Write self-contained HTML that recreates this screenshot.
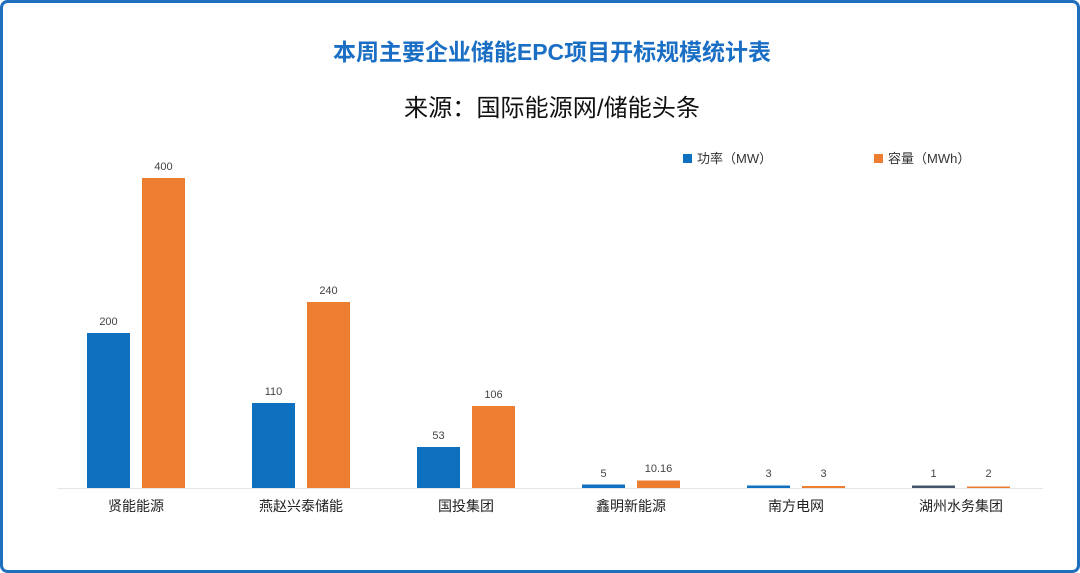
<!DOCTYPE html>
<html><head><meta charset="utf-8"><style>
html,body{margin:0;padding:0;background:#fff}
svg{display:block}
text{font-family:"Liberation Sans","Noto Sans CJK SC",sans-serif}
</style></head><body>
<svg width="1080" height="573" viewBox="0 0 1080 573" xmlns="http://www.w3.org/2000/svg">
<rect x="1.5" y="1.5" width="1077" height="570" rx="6" fill="#fff" stroke="#1f6fbf" stroke-width="3"/>
<text x="552" y="60" text-anchor="middle" font-size="23" font-weight="bold" fill="#1a6fc4" textLength="438" lengthAdjust="spacingAndGlyphs">本周主要企业储能EPC项目开标规模统计表</text>
<text x="552" y="116" text-anchor="middle" font-size="24" fill="#111" textLength="296" lengthAdjust="spacingAndGlyphs">来源：国际能源网/储能头条</text>
<rect x="683" y="154" width="9" height="9" fill="#0f70c0"/>
<text x="697" y="163" font-size="13" fill="#333">功率（MW）</text>
<rect x="874" y="154" width="9" height="9" fill="#ed7d31"/>
<text x="888" y="163" font-size="13" fill="#333">容量（MWh）</text>
<line x1="57" y1="488.5" x2="1043" y2="488.5" stroke="#e6e6e6" stroke-width="1"/>
<g font-size="11" fill="#444" text-anchor="middle">
<rect x="87" y="333" width="43" height="155" fill="#0f70c0"/><text x="108.5" y="325">200</text>
<rect x="142" y="178" width="43" height="310" fill="#ed7d31"/><text x="163.5" y="170">400</text>
<rect x="252" y="403" width="43" height="85" fill="#0f70c0"/><text x="273.5" y="395">110</text>
<rect x="307" y="302" width="43" height="186" fill="#ed7d31"/><text x="328.5" y="294">240</text>
<rect x="417" y="447" width="43" height="41" fill="#0f70c0"/><text x="438.5" y="439">53</text>
<rect x="472" y="406" width="43" height="82" fill="#ed7d31"/><text x="493.5" y="398">106</text>
<rect x="582" y="484.5" width="43" height="3.5" fill="#0f70c0"/><text x="603.5" y="477">5</text>
<rect x="637" y="480.5" width="43" height="7.5" fill="#ed7d31"/><text x="658.5" y="472">10.16</text>
<rect x="747" y="485.5" width="43" height="2.5" fill="#0f70c0"/><text x="768.5" y="477">3</text>
<rect x="802" y="486" width="43" height="2" fill="#ed7d31"/><text x="823.5" y="477">3</text>
<rect x="912" y="485.5" width="43" height="2.5" fill="#44546a"/><text x="933.5" y="477">1</text>
<rect x="967" y="486.5" width="43" height="1.5" fill="#ed7d31"/><text x="988.5" y="477">2</text>
</g>
<g font-size="14" fill="#222" text-anchor="middle">
<text x="136" y="511">贤能能源</text>
<text x="301" y="511">燕赵兴泰储能</text>
<text x="466" y="511">国投集团</text>
<text x="631" y="511">鑫明新能源</text>
<text x="796" y="511">南方电网</text>
<text x="961" y="511">湖州水务集团</text>
</g>
</svg>
</body></html>
